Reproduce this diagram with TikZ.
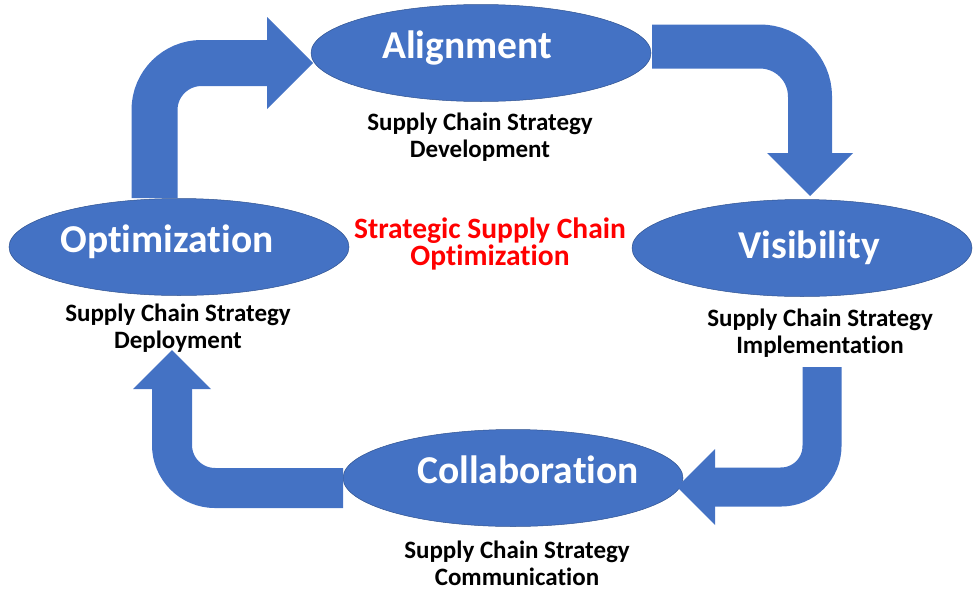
\documentclass[tikz,border=0pt]{standalone}
\usepackage{fontspec}
\setmainfont{Carlito}[Ligatures=NoCommon]
\usepackage{tikz}
\usetikzlibrary{shapes.geometric, arrows.meta}
\definecolor{main}{RGB}{68,114,196}
\definecolor{second}{RGB}{47,82,143}
\definecolor{third}{RGB}{255,0,0}
\tikzset{
  stage/.style={ellipse, fill=main, draw=second, line width=0.5pt, minimum width=340pt, minimum height=97pt, inner sep=0pt},
  title/.style={anchor=base, text=white, font=\bfseries\fontsize{39.5}{42}\selectfont},
  caption/.style={anchor=base, align=center, font=\bfseries\fontsize{25}{27}\selectfont},
  shaft/.style={draw=main, rounded corners=#1},
  head/.style={-{Triangle[length=#1 0, width=2*#1 0, line width=0pt]}}
}
\begin{document}
\begin{tikzpicture}[x=1pt, y=-1pt]
		\useasboundingbox (0,0) rectangle (974,600);
		% 四个阶段
		\node[stage] (align) at (481,53) {};
		\node[stage] (opt) at (179,247) {};
		\node[stage] (vis) at (802,248) {};
		\node[stage] (coll) at (513,478) {};
		\node[title] (alignT) at (467,58) {Alignment};
		\node[title] (optT) at (167,252) {Optimization};
		\node[title] (visT) at (809,258) {Visibility};
		\node[title] (collT) at (528,483) {Collaboration};
		% 说明文字
		\node[caption] (alignC) at (480,157) {Supply Chain Strategy\\Development};
		\node[caption] (optC) at (178,348) {Supply Chain Strategy\\Deployment};
		\node[caption] (visC) at (820,353) {Supply Chain Strategy\\Implementation};
		\node[caption] (collC) at (517,585) {Supply Chain Strategy\\Communication};
		\node[caption, text=third, font=\bfseries\fontsize{29.5}{27}\selectfont] (centre) at (490,265) {Strategic Supply Chain\\Optimization};
		% 箭头
		\coordinate (s1) at (154.5,198);
		\coordinate (t1) at (313,63);
		\coordinate (s2) at (652,46.5);
		\coordinate (t2) at (810,196);
		\coordinate (s3) at (822,367);
		\coordinate (t3) at (677,487);
		\coordinate (s4) at (343,488);
		\coordinate (t4) at (172,350);
		\draw[shaft=47pt, line width=46pt, head=46pt] (s1) |- (t1);
		\draw[shaft=50pt, line width=44pt, head=43pt] (s2) -| (t2);
		\draw[shaft=41pt, line width=39pt, head=38pt] (s3) |- (t3);
		\draw[shaft=43pt, line width=40pt, head=39pt] (s4) -| (t4);
	\end{tikzpicture}
\end{document}
